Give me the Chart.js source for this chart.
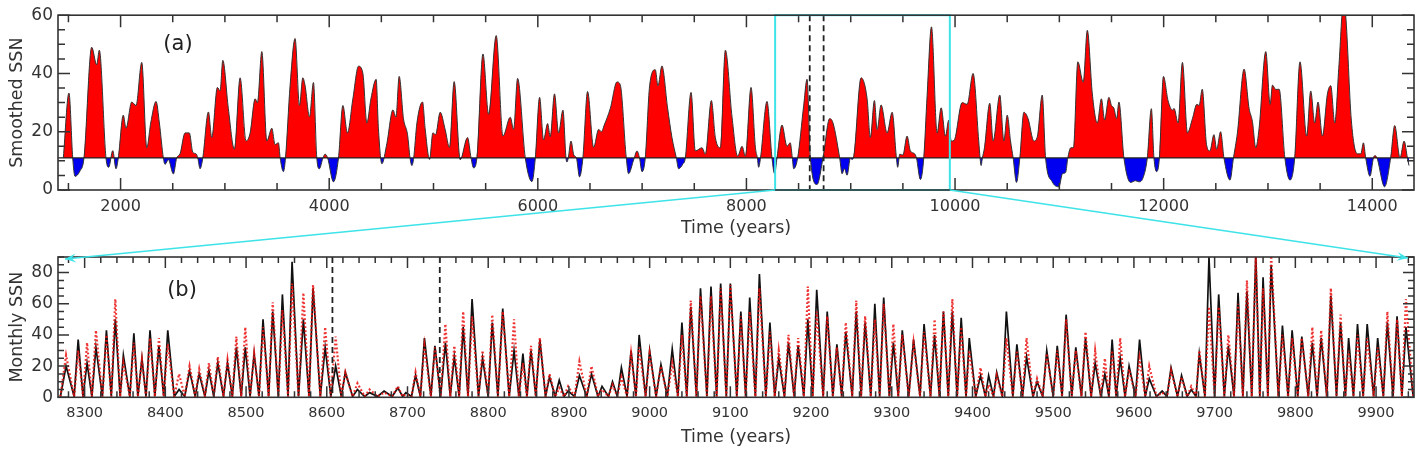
<!DOCTYPE html>
<html><head><meta charset="utf-8">
<script src="https://cdn.jsdelivr.net/npm/chart.js@4.4.1/dist/chart.umd.min.js"></script>
<style>
html,body{margin:0;padding:0;background:#fff;}
#wrap{position:relative;width:1424px;height:453px;overflow:hidden;}
#topBox{position:absolute;left:0;top:0;width:1424px;height:240px;}
#botBox{position:absolute;left:0;top:240px;width:1424px;height:213px;}
#overlay{position:absolute;left:0;top:0;width:1424px;height:453px;pointer-events:none;}
</style></head>
<body><div id="wrap">
<div id="topBox"><canvas id="topChart"></canvas></div>
<div id="botBox"><canvas id="botChart"></canvas></div>
<canvas id="overlay" width="1424" height="453"></canvas>
</div>
<script>
// ---------------- DATA ----------------
// (a) smoothed SSN: [year, value]
const smoothedSSN = [
[1451,11],[1505,33.3],[1541,11],[1563,4.7],[1610,6.5],[1649,11],[1723,49],[1771,43],[1796,48],[1860,11],[1886,7.8],[1925,13.5],[1956,7.3],[1978,11],[2026,25.7],[2052,21.2],[2107,30.2],[2148,29],[2203,43.8],[2251,14.5],[2289,23],[2340,30.4],[2372,23],[2410,11],[2426,8.8],[2458,10.4],[2506,5.5],[2538,11],[2570,12.4],[2618,19.6],[2659,19.6],[2692,13],[2724,12.4],[2740,11],[2762,7.3],[2788,11],[2842,26.8],[2874,18],[2928,35.2],[2954,34],[2980,44.5],[3033,28],[3091,14],[3146,38.5],[3203,16.8],[3242,19.6],[3290,31.3],[3312,30],[3354,47.5],[3402,16.8],[3450,21.2],[3481,15.6],[3513,16.2],[3530,11],[3561,6.3],[3581,11],[3625,35.8],[3673,52],[3715,29],[3747,38.5],[3769,35.8],[3811,25.1],[3849,36.9],[3881,11],[3906,7.3],[3940,11],[3961,12.3],[3985,11],[4041,2.8],[4089,11],[4131,29],[4175,19.6],[4227,31.3],[4281,42.5],[4323,40],[4361,23],[4400,31.3],[4450,38],[4472,21],[4505,9],[4553,16],[4611,27.5],[4640,25],[4671,39],[4712,24.5],[4751,19],[4775,11],[4793,8.4],[4810,11],[4841,23],[4895,30.2],[4920,21],[4962,10.5],[4994,19.6],[5020,19],[5064,26.7],[5112,20.7],[5153,14.6],[5198,37.2],[5256,10.4],[5326,18],[5360,11],[5384,7.6],[5416,11],[5474,46.7],[5528,26],[5601,53],[5666,18.5],[5736,25],[5768,20.8],[5806,38.3],[5880,11],[5944,2.9],[5976,11],[6017,31.8],[6055,17.2],[6094,22.8],[6119,18.3],[6160,33],[6199,19.6],[6241,27.4],[6270,11],[6279,9.6],[6292,11],[6318,16.8],[6345,12],[6370,11],[6400,4.5],[6432,11],[6477,33.8],[6535,14.6],[6583,20.8],[6610,20],[6637,22.3],[6695,28],[6759,37.1],[6791,36],[6848,11],[6870,5.6],[6920,10.5],[6951,13.4],[6975,11],[6999,6.3],[7030,11],[7072,35.8],[7126,41.3],[7152,35.8],[7190,42.6],[7244,28.2],[7286,18],[7328,11],[7350,7.3],[7390,8.9],[7414,11],[7469,33.5],[7510,13.4],[7574,14.5],[7606,12.3],[7664,30.7],[7702,18],[7750,14.5],[7798,48],[7862,25],[7916,11.6],[7958,15],[7990,11.6],[8044,35.2],[8086,14.6],[8105,11],[8117,7.8],[8135,11],[8197,30.4],[8245,11],[8270,5.6],[8293,11],[8341,22.3],[8389,15],[8420,16.2],[8440,11],[8453,7.3],[8491,11],[8549,29],[8581,38],[8613,11],[8677,1.9],[8734,11],[8798,24.5],[8830,23],[8894,11],[8917,5.6],[8940,7.3],[8965,5.1],[8997,11],[9010,10.5],[9025,11],[9099,38.5],[9157,31.3],[9188,18],[9227,30.7],[9253,20.7],[9291,29.2],[9349,19.6],[9397,26.7],[9438,11],[9450,7.8],[9470,12.3],[9500,12],[9540,18.5],[9572,13.4],[9610,12.5],[9630,11],[9668,3.6],[9700,11],[9732,32.3],[9774,56],[9828,19.6],[9867,28.2],[9908,18.5],[9940,24],[9963,16.8],[9990,17],[10068,30],[10116,29.4],[10173,40],[10227,16.8],[10240,11],[10250,8.4],[10262,11],[10282,14.5],[10333,29.8],[10365,16.8],[10429,32.6],[10468,16.8],[10500,25.7],[10532,16.8],[10557,11],[10589,2.6],[10621,11],[10660,26.7],[10700,24.5],[10756,16.8],[10790,18.5],[10836,32.6],[10868,11],[10932,2.8],[10996,1.1],[11030,5.6],[11060,6],[11081,11],[11110,14.5],[11135,14.5],[11177,44],[11229,37],[11268,54.8],[11316,33],[11364,23],[11403,31.3],[11434,24],[11475,31.8],[11500,29],[11523,28.1],[11549,24.5],[11571,30.2],[11619,11],[11683,2.6],[11730,3.2],[11763,2.8],[11800,4],[11843,11],[11882,27.9],[11907,11],[11933,6.3],[11959,11],[11998,39],[12042,30.7],[12085,27.4],[12100,28],[12138,23],[12180,43.8],[12228,19.6],[12276,24.5],[12318,29.4],[12340,29],[12370,34.6],[12411,15.6],[12443,13.4],[12482,19],[12508,14],[12546,20],[12578,11],[12636,3.4],[12669,11],[12707,19.6],[12771,41.5],[12819,28],[12851,23.5],[12883,14.5],[12915,21.2],[12979,47.5],[13021,29.4],[13043,36],[13075,34.5],[13107,34.6],[13162,11],[13211,3.4],[13256,11],[13307,44],[13371,18.5],[13410,34],[13448,23],[13480,30.2],[13522,18.5],[13570,33],[13602,35.8],[13640,23],[13681,43],[13723,64],[13745,60],[13799,24],[13857,12.4],[13890,12.4],[13915,16.2],[13937,11],[13978,4.7],[14011,11],[14025,11.8],[14045,11],[14118,1.1],[14176,11],[14215,22.1],[14266,11],[14305,16.8],[14337,11],[14352,8.4]
];
const thresholdSSN = 11;
const zoomRange = [8275, 9950];
const dashedYears = [8607, 8740];

// (b) monthly SSN: cycle minima years, peak years, peak values of the two series
const cycleMinYears = [
8270,8287,8298,8309,8322,8333,8344,8356,8366,8376,
8387,8398,8411,8424,8437,8449,8460,8472,8483,8494,
8505,8516,8528,8540,8552,8565,8578,8592,8605,8618,
8632,8647,8663,8681,8694,8705,8716,8729,8741,8753,
8764,8775,8788,8800,8812,8826,8838,8848,8859,8871,
8883,8894,8907,8922,8936,8949,8960,8972,8983,8995,
9008,9022,9035,9046,9058,9071,9083,9095,9108,9119,
9131,9144,9155,9167,9179,9191,9202,9215,9227,9238,
9251,9262,9274,9285,9297,9308,9321,9335,9348,9359,
9370,9381,9392,9404,9416,9426,9437,9450,9462,9475,
9487,9500,9511,9523,9535,9547,9559,9569,9578,9589,
9602,9614,9628,9641,9654,9666,9677,9688,9700,9712,
9724,9735,9746,9756,9766,9779,9791,9803,9816,9827,
9839,9851,9862,9872,9884,9897,9909,9921,9932,9946];
const peakYears = [
8277,8292,8303,8314,8327,8338,8348,8361,8371,8381,
8392,8403,8417,8430,8442,8454,8465,8477,8488,8499,
8510,8521,8533,8545,8557,8571,8583,8598,8611,8623,
8638,8653,8671,8688,8698,8710,8721,8734,8747,8758,
8769,8780,8793,8805,8818,8832,8843,8853,8864,8876,
8888,8899,8913,8928,8941,8954,8965,8977,8987,9000,
9014,9028,9040,9051,9063,9076,9088,9100,9113,9124,
9136,9149,9160,9172,9184,9196,9207,9220,9232,9243,
9256,9267,9279,9290,9302,9313,9327,9340,9353,9364,
9375,9386,9396,9410,9420,9430,9442,9455,9467,9480,
9492,9505,9516,9528,9540,9552,9564,9573,9583,9594,
9607,9619,9635,9646,9659,9671,9681,9693,9705,9717,
9729,9740,9751,9760,9770,9784,9796,9808,9821,9832,
9844,9856,9866,9877,9889,9902,9914,9926,9937];
const blackPeaks = [
20,37,22,32,43,50,27,41,25,43,
33,43,5,17,15,17,22,22,32,32,
28,50,55,66,87,50,70,32,20,16,
5,3,4,6,3,14,38,33,35,26,
45,63,25,48,57,30,28,30,37,13,
11,4,14,15,7,10,19,30,40,30,
21,31,48,58,70,71,73,73,55,64,
79,48,25,35,33,50,69,55,34,42,
55,48,60,64,35,43,37,47,40,55,
55,51,38,14,14,16,55,34,26,10,
30,33,53,32,38,22,15,37,25,20,
37,12,4,19,14,5,28,90,66,33,
67,68,92,77,85,46,43,39,35,38,
65,48,38,47,47,38,48,52,45];
const redPeaks = [
27,30,35,43,40,63,22,35,24,38,
38,34,15,20,18,22,26,24,39,45,
28,45,61,56,73,67,72,45,39,16,
9,5,3,7,2,16,33,32,47,33,
55,52,30,53,55,50,22,33,38,15,
6,7,23,20,5,8,13,28,32,28,
20,22,40,62,65,65,70,72,52,55,
70,42,30,40,38,71,55,52,32,48,
62,52,50,60,47,40,35,42,50,55,
63,45,30,19,8,14,38,30,38,12,
28,30,50,30,42,30,25,30,38,18,
25,20,3,17,13,7,30,58,58,40,
60,75,90,70,92,40,38,38,45,43,
70,53,30,40,38,32,55,50,63];
const cycleMinSSN = 0.5;

// tick labels
const topXTicks = [2000,4000,6000,8000,10000,12000,14000];
const topYTicks = [0,20,40,60];
const botXTicks = [8300,8400,8500,8600,8700,8800,8900,9000,9100,9200,9300,9400,9500,9600,9700,9800,9900];
const botYTicks = [0,20,40,60,80];

// ---------------- CHARTS ----------------
const FONT = '"DejaVu Sans", "Liberation Sans", sans-serif';
Chart.defaults.font.family = FONT;
const AXIS = '#333';

function cycleSeries(peaks){
  const pts = [];
  for (let i = 0; i < peakYears.length; i++){
    pts.push({x: cycleMinYears[i], y: cycleMinSSN});
    pts.push({x: peakYears[i], y: peaks[i]});
  }
  pts.push({x: cycleMinYears[peakYears.length], y: cycleMinSSN});
  return pts;
}

function framePlugin(cfg){
  return {
    id: 'frame_' + cfg.name,
    afterDatasetsDraw(chart){
      const {ctx, chartArea: a, scales: {x, y}} = chart;
      ctx.save();
      ctx.beginPath(); ctx.rect(a.left, a.top, a.right - a.left, a.bottom - a.top); ctx.clip();
      if (cfg.threshold != null){
        const py = y.getPixelForValue(cfg.threshold);
        ctx.strokeStyle = '#222'; ctx.lineWidth = 1.2;
        ctx.beginPath(); ctx.moveTo(a.left, py); ctx.lineTo(a.right, py); ctx.stroke();
      }
      ctx.setLineDash([6, 4]); ctx.strokeStyle = '#222'; ctx.lineWidth = 1.8;
      dashedYears.forEach(v => {
        const px = x.getPixelForValue(v);
        ctx.beginPath(); ctx.moveTo(px, a.top); ctx.lineTo(px, a.bottom); ctx.stroke();
      });
      ctx.setLineDash([]);
      ctx.restore();
      ctx.save();
      // ticks (inward)
      ctx.strokeStyle = AXIS; ctx.lineWidth = 1.5;
      const drawX = (v, len) => {
        const px = x.getPixelForValue(v);
        ctx.beginPath(); ctx.moveTo(px, a.bottom); ctx.lineTo(px, a.bottom - len);
        ctx.moveTo(px, a.top); ctx.lineTo(px, a.top + len); ctx.stroke();
      };
      const drawY = (v, len) => {
        const py = y.getPixelForValue(v);
        ctx.beginPath(); ctx.moveTo(a.left, py); ctx.lineTo(a.left + len, py);
        ctx.moveTo(a.right, py); ctx.lineTo(a.right - len, py); ctx.stroke();
      };
      for (let v = Math.ceil(x.min / cfg.xMinor) * cfg.xMinor; v <= x.max; v += cfg.xMinor){
        drawX(v, cfg.xMajor.includes(v) ? cfg.majorLen : cfg.minorLen);
      }
      for (let v = Math.ceil(y.min / cfg.yMinor) * cfg.yMinor; v <= y.max; v += cfg.yMinor){
        drawY(v, cfg.yMajor.includes(v) ? cfg.majorLen : cfg.minorLen);
      }
      // cyan zoom box
      if (cfg.box){
        const x0 = x.getPixelForValue(zoomRange[0]), x1 = x.getPixelForValue(zoomRange[1]);
        ctx.strokeStyle = '#3ee3e8'; ctx.lineWidth = 2;
        ctx.strokeRect(x0, a.top, x1 - x0, a.bottom - a.top);
      }
      // frame
      ctx.strokeStyle = AXIS; ctx.lineWidth = 1.6;
      ctx.strokeRect(a.left, a.top, a.right - a.left, a.bottom - a.top);
      // panel label
      ctx.fillStyle = '#222'; ctx.font = '21px ' + FONT;
      ctx.textAlign = 'center'; ctx.textBaseline = 'middle';
      ctx.fillText(cfg.label, a.left + cfg.labelDx, a.top + cfg.labelDy);
      ctx.restore();
    },
    afterRender(){ drawOverlay(); }
  };
}

function fixedTicks(list){ return s => { s.ticks = list.map(v => ({value: v})); }; }
const plainLabel = v => String(v);

function axisX(min, max, ticks, size, pad, titlePadBottom, height){
  return {
    type: 'linear', min, max,
    afterBuildTicks: fixedTicks(ticks),
    afterFit: s => { s.height = height; },
    grid: {display: false, drawTicks: false},
    border: {display: false},
    ticks: {color: AXIS, font: {size}, padding: pad, maxRotation: 0, autoSkip: false, callback: plainLabel},
    title: {display: true, text: 'Time (years)', color: AXIS, font: {size: 17.5}, padding: {top: 0, bottom: titlePadBottom}}
  };
}
function axisY(min, max, ticks, title, titlePadTop){
  return {
    type: 'linear', min, max,
    afterBuildTicks: fixedTicks(ticks),
    afterFit: s => { s.width = 58; },
    grid: {display: false, drawTicks: false},
    border: {display: false},
    ticks: {color: AXIS, font: {size: 17}, padding: 5, callback: plainLabel},
    title: {display: true, text: title, color: AXIS, font: {size: 17.5}, padding: {top: titlePadTop, bottom: 0}}
  };
}

let topChart = null, botChart = null;

function drawOverlay(){
  if (!topChart || !botChart || !topChart.chartArea || !botChart.chartArea) return;
  const cv = document.getElementById('overlay');
  const ctx = cv.getContext('2d');
  ctx.clearRect(0, 0, cv.width, cv.height);
  const ta = topChart.chartArea, ba = botChart.chartArea, tx = topChart.scales.x;
  const off = 240;
  const segs = [
    [tx.getPixelForValue(zoomRange[0]), ta.bottom, ba.left + 7, off + ba.top + 2],
    [tx.getPixelForValue(zoomRange[1]), ta.bottom, ba.right - 6, off + ba.top + 1]
  ];
  ctx.strokeStyle = '#3ee3e8'; ctx.fillStyle = '#3ee3e8'; ctx.lineWidth = 1.6;
  segs.forEach(([x0, y0, x1, y1]) => {
    ctx.beginPath(); ctx.moveTo(x0, y0); ctx.lineTo(x1, y1); ctx.stroke();
    const ang = Math.atan2(y1 - y0, x1 - x0), L = 11, W = 4.5;
    ctx.beginPath();
    ctx.moveTo(x1, y1);
    ctx.lineTo(x1 - L * Math.cos(ang) + W * Math.sin(ang), y1 - L * Math.sin(ang) - W * Math.cos(ang));
    ctx.lineTo(x1 - L * 0.6 * Math.cos(ang), y1 - L * 0.6 * Math.sin(ang));
    ctx.lineTo(x1 - L * Math.cos(ang) - W * Math.sin(ang), y1 - L * Math.sin(ang) + W * Math.cos(ang));
    ctx.closePath(); ctx.fill();
  });
}

topChart = new Chart(document.getElementById('topChart'), {
  type: 'line',
  data: {datasets: [{
    data: smoothedSSN.map(p => ({x: p[0], y: p[1]})),
    borderColor: '#333', borderWidth: 1, pointRadius: 0,
    cubicInterpolationMode: 'monotone',
    fill: {value: thresholdSSN, above: '#ff0000', below: '#0000f0'}
  }]},
  options: {
    responsive: true, maintainAspectRatio: false, animation: false,
    layout: {padding: {top: 11, right: 10, left: 0, bottom: 0}},
    plugins: {legend: {display: false}, tooltip: {enabled: false}},
    scales: {
      x: axisX(1400, 14400, topXTicks, 16, 7, 1.5, 50),
      y: axisY(0, 60, topYTicks, 'Smoothed SSN', 7)
    }
  },
  plugins: [framePlugin({name: 'a', threshold: thresholdSSN, box: true, label: '(a)', labelDx: 120, labelDy: 29,
    xMinor: 500, xMajor: topXTicks, yMinor: 5, yMajor: topYTicks, majorLen: 12, minorLen: 7})]
});

botChart = new Chart(document.getElementById('botChart'), {
  type: 'line',
  data: {datasets: [
    {data: cycleSeries(blackPeaks), borderColor: '#111', borderWidth: 1.7, pointRadius: 0, tension: 0, order: 2},
    {data: cycleSeries(redPeaks), borderColor: 'rgba(235,15,15,0.85)', borderWidth: 2.2, borderDash: [1.8, 2.2], pointRadius: 0, tension: 0, order: 1}
  ]},
  options: {
    responsive: true, maintainAspectRatio: false, animation: false,
    layout: {padding: {top: 17, right: 10, left: 0, bottom: 0}},
    plugins: {legend: {display: false}, tooltip: {enabled: false}},
    scales: {
      x: axisX(8267, 9947, botXTicks, 14.5, 7, 5.5, 55.7),
      y: axisY(0, 90, botYTicks, 'Monthly SSN', 7)
    }
  },
  plugins: [framePlugin({name: 'b', threshold: null, box: false, label: '(b)', labelDx: 124, labelDy: 34,
    xMinor: 20, xMajor: botXTicks, yMinor: 5, yMajor: botYTicks, majorLen: 11, minorLen: 6})]
});
drawOverlay();
</script>
</body></html>
